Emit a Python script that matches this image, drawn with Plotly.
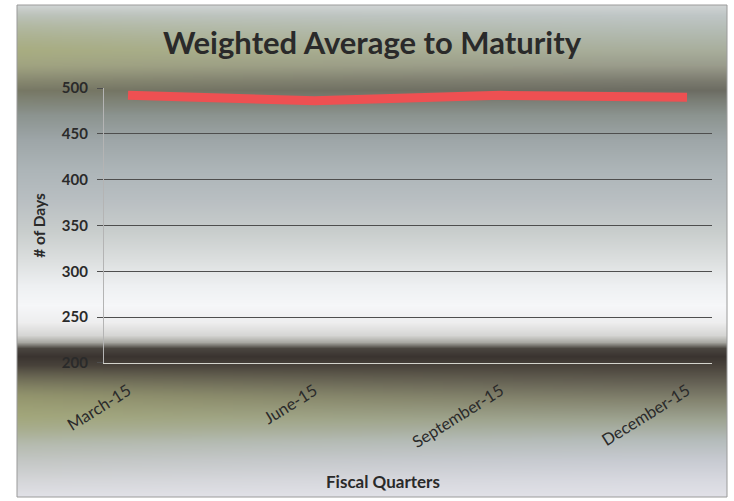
import base64
import struct
import zlib

import numpy as np
import plotly.graph_objects as go

# data
quarters = ["March-15", "June-15", "September-15", "December-15"]
days = [492, 486, 492, 490]
y_ticks = [200, 250, 300, 350, 400, 450, 500]

# background gradient of the scanned chart (pixel row in frame -> colour)
bg_stops = [
    (0, "#d0d4d4"), (10, "#bfc6c6"), (25, "#b4bcb4"), (45, "#a8ae9c"),
    (60, "#9a9c8c"), (75, "#7c7c70"), (85, "#6c6c62"), (95, "#7a7e76"),
    (110, "#8c9490"), (135, "#9ea6a8"), (165, "#adb5b8"), (195, "#b9bfc2"),
    (225, "#c8cdcc"), (255, "#dcdfdf"), (280, "#eef0f2"), (300, "#f6f7f9"),
    (317, "#eeeeef"), (330, "#d6d6d4"), (337, "#a8a8a2"), (343, "#4a4640"),
    (351, "#3a3430"), (361, "#4a443c"), (375, "#625e52"), (395, "#848470"),
    (415, "#9fa594"), (435, "#b5bcbb"), (455, "#c8cbd2"), (475, "#d8d9e0"),
    (492, "#e2e2e8"),
]
# yellowish tint on the left side: (row, strength)
tint_stops = [(0, 0.0), (20, 0.3), (45, 0.6), (70, 0.3), (110, 0.0),
              (360, 0.0), (390, 0.5), (410, 0.6), (440, 0.2), (492, 0.0)]


def hex_rgb(h):
    return [int(h[i:i + 2], 16) for i in (1, 3, 5)]


def png_uri(arr):
    h, w, _ = arr.shape
    raw = b"".join(b"\x00" + row.tobytes() for row in arr)

    def chunk(tag, data):
        return (struct.pack(">I", len(data)) + tag + data
                + struct.pack(">I", zlib.crc32(tag + data) & 0xffffffff))

    png = (b"\x89PNG\r\n\x1a\n"
           + chunk(b"IHDR", struct.pack(">IIBBBBB", w, h, 8, 2, 0, 0, 0))
           + chunk(b"IDAT", zlib.compress(raw, 9))
           + chunk(b"IEND", b""))
    return "data:image/png;base64," + base64.b64encode(png).decode()


H, W = 492, 71
rows = np.arange(H)
ys = [s[0] for s in bg_stops]
cols = np.array([hex_rgb(s[1]) for s in bg_stops], dtype=float)
base = np.stack([np.interp(rows, ys, cols[:, c]) for c in range(3)], axis=1)
tint = np.interp(rows, [t[0] for t in tint_stops], [t[1] for t in tint_stops])
yellow = np.array([168, 172, 112], dtype=float)
xfrac = np.linspace(1, 0, W)
img = np.empty((H, W, 3))
for j in range(W):
    k = (tint * xfrac[j] ** 1.5)[:, None]
    img[:, j, :] = base * (1 - k) + yellow * k
bg_uri = png_uri(np.clip(img, 0, 255).astype(np.uint8))

fig = go.Figure()
fig.add_trace(go.Scatter(
    x=quarters, y=days, mode="lines",
    line=dict(color="#ee5052", width=9),
    hoverinfo="x+y", showlegend=False,
))

fig.add_layout_image(dict(
    source=bg_uri, xref="paper", yref="paper", x=0, y=1,
    sizex=1, sizey=1, sizing="stretch", xanchor="left", yanchor="top",
    layer="below",
))
fig.add_shape(type="rect", xref="paper", yref="paper", x0=0, y0=0, x1=1, y1=1,
              line=dict(color="#9a9a9a", width=1))

# x axis title sits a little left of the plot centre in the original
fig.add_annotation(text="Fiscal Quarters", xref="paper", yref="paper",
                   x=0.5155, y=0.0325, showarrow=False,
                   xanchor="center", yanchor="middle",
                   font=dict(size=17, color="#2a2a2a", weight="bold"))

fig.update_layout(
    width=734, height=501,
    margin=dict(l=17, r=7, t=5, b=4, autoexpand=False),
    paper_bgcolor="white", plot_bgcolor="rgba(0,0,0,0)",
    font=dict(family="Lato, sans-serif", color="#262626"),
    title=dict(text="Weighted Average to Maturity", x=0.5, xref="paper",
               xanchor="center", y=0.914, yref="container", yanchor="middle",
               font=dict(size=31, color="#2a2a2a", weight="bold")),
    xaxis=dict(
        domain=[0.1225, 0.9789], range=[-0.129, 3.134], automargin=False,
        showgrid=False, zeroline=False,
        showline=True, linecolor="#d4d4cc", linewidth=1,
        tickangle=-32, tickfont=dict(size=16.5, color="#2a2a2a"),
        ticks="", ticklabelstandoff=11,
    ),
    yaxis=dict(
        domain=[0.2724, 0.8313], range=[200, 500], automargin=False,
        tickvals=y_ticks, showgrid=True, gridcolor="#4e4e4e", gridwidth=1,
        zeroline=False, showline=True, linecolor="#b4b4b4", linewidth=1,
        ticks="outside", ticklen=6, tickcolor="#4e4e4e",
        tickfont=dict(size=15, color="#2a2a2a", weight="bold"),
        ticklabelstandoff=6,
        title=dict(text="# of Days", standoff=12,
                   font=dict(size=15.5, color="#2a2a2a", weight="bold")),
    ),
)

fig.write_html("out.html", config={"displayModeBar": False},
               post_script="document.body.style.margin='0';")
